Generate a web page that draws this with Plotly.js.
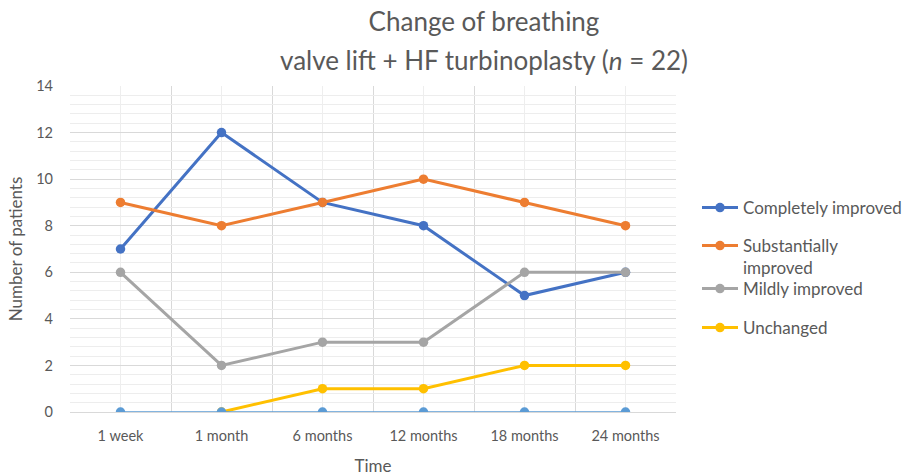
<!DOCTYPE html>
<html>
<head>
<meta charset="utf-8">
<script src="https://cdn.plot.ly/plotly-3.0.1.min.js"></script>
<style>html,body{margin:0;padding:0;background:#fff}#chart{width:904px;height:476px}</style>
</head>
<body>
<div id="chart"></div>
<script>
const categories = ["1 week", "1 month", "6 months", "12 months", "18 months", "24 months"];
const completelyImproved = [7, 12, 9, 8, 5, 6];
const substantiallyImproved = [9, 8, 9, 10, 9, 8];
const mildlyImproved = [6, 2, 3, 3, 6, 6];
const unchanged = [null, 0, 1, 1, 2, 2];
const worsened = [0, 0, 0, 0, 0, 0];
const yTicks = [0, 2, 4, 6, 8, 10, 12, 14];

const xIdx = categories.map((c, i) => i);
const boundaries = categories.map((c, i) => i - 0.5).concat([categories.length - 0.5]);

// plot area in pixels (for legend placement)
const PL = 70, PR = 676, PT = 86, PB = 412;
const px2x = p => (p - PL) / (PR - PL);
const px2y = p => (PB - p) / (PB - PT);

function series(name, y, color, width, legendId) {
  return {
    type: "scatter", mode: "lines+markers", name: name, x: xIdx, y: y,
    line: {color: color, width: width}, marker: {color: color, size: 9.5},
    showlegend: legendId !== null, legend: legendId || "legend", connectgaps: false,
    hoverinfo: "x+y+name"
  };
}

const font = "Lato, 'Open Sans', sans-serif";
const data = [
  series("Completely improved", completelyImproved, "#4472C4", 3, "legend"),
  series("Substantially<br>improved", substantiallyImproved, "#ED7D31", 3, "legend2"),
  series("Mildly improved", mildlyImproved, "#A5A5A5", 3, "legend3"),
  series("Unchanged", unchanged, "#FFC000", 3, "legend4"),
  series("Worsened", worsened, "#5B9BD5", 1.5, null)
];

function leg(yCenter) {
  return {
    x: px2x(697), xanchor: "left", y: px2y(yCenter), yanchor: "middle",
    font: {size: 17, color: "#595959", family: font}, valign: "top",
    bgcolor: "rgba(0,0,0,0)", borderwidth: 0, itemwidth: 36
  };
}

const layout = {
  width: 904, height: 476,
  margin: {l: PL, r: 904 - PR, t: PT, b: 476 - PB, autoexpand: false},
  paper_bgcolor: "#fff", plot_bgcolor: "#fff",
  font: {family: font, color: "#595959", size: 14},
  title: {text: "Change of breathing", font: {size: 26, color: "#595959", family: font},
          x: 484 / 904, xref: "container", xanchor: "center", y: 1 - 22 / 476, yref: "container", yanchor: "middle"},
  annotations: [{
    text: "valve lift + HF turbinoplasty (<i>n</i> = 22)", xref: "paper", yref: "paper",
    x: px2x(484), y: px2y(60), xanchor: "center", yanchor: "middle",
    showarrow: false, font: {size: 26, color: "#595959", family: font}
  }],
  xaxis: {
    range: [-0.5, categories.length - 0.5], tickmode: "array", tickvals: xIdx, ticktext: categories,
    showgrid: true, gridcolor: "#eeeeee", gridwidth: 1, zeroline: false,
    showline: true, linecolor: "#d9d9d9", linewidth: 1, ticks: "",
    tickfont: {size: 14.5, color: "#595959"}, ticklabelstandoff: 11,
    minor: {tickmode: "array", tickvals: boundaries, showgrid: true, gridcolor: "#d9d9d9", gridwidth: 1, ticks: ""},
    title: {text: "Time", font: {size: 17, color: "#595959"}, standoff: 16},
    automargin: false, fixedrange: true
  },
  yaxis: {
    range: [0, 14], tickmode: "array", tickvals: yTicks, ticktext: yTicks.map(String),
    showgrid: true, gridcolor: "#d9d9d9", gridwidth: 1, zeroline: false, showline: false,
    ticks: "", tickfont: {size: 14.5, color: "#595959"}, ticklabelstandoff: 16,
    minor: {dtick: 0.4, tick0: 0, showgrid: true, gridcolor: "#ededed", gridwidth: 1, ticks: ""},
    title: {text: "Number of patients", font: {size: 17, color: "#595959"}, standoff: 9},
    automargin: false, fixedrange: true
  },
  legend: leg(208),
  legend2: leg(257),
  legend3: leg(289),
  legend4: leg(328),
  showlegend: true
};

Plotly.newPlot("chart", data, layout, {displayModeBar: false, staticPlot: true});
</script>
</body>
</html>
